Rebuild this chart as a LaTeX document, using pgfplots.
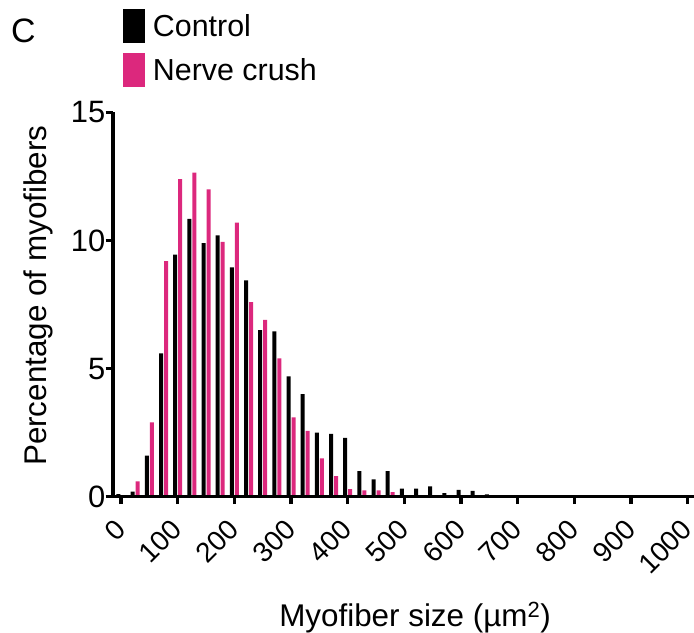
\documentclass[border=0pt]{standalone}
\usepackage{fontspec}
\setmainfont{Liberation Sans}
\usepackage{pgfplots}
\pgfplotsset{compat=1.18}
\definecolor{crush}{RGB}{220,40,125}
\begin{document}
\begin{tikzpicture}
\useasboundingbox (0,0) rectangle (694bp,633bp);
\node[anchor=base west, inner sep=0pt, font=\fontsize{34}{40}\selectfont] at (11bp,590bp) {C};
\begin{axis}[
  at={(113bp,136.3bp)}, anchor=south west,
  scale only axis, width=581bp, height=384.2bp,
  xmin=-14.1, xmax=1011, ymin=0, ymax=15,
  axis x line*=bottom, axis y line*=left,
  axis line style={line width=3.2bp, black},
  every tick/.style={line width=3.2bp, black},
  major tick length=7.5bp, tick align=outside,
  xtick={0,100,...,1000}, ytick={0,5,10,15},
  minor tick num=0,
  /pgf/number format/assume math mode=true,
  /pgf/number format/1000 sep={},
  yticklabel style={font=\fontsize{31}{36}\selectfont, anchor=east, inner sep=0pt},
  xticklabel style={font=\fontsize{28}{33}\selectfont, yshift=-20.5bp, xshift=-0.5bp, rotate=45, anchor=east, inner sep=0pt},
  label style={font=\fontsize{31.5}{38}\selectfont},
  xlabel={Myofiber size (µm\textsuperscript{2})},
  xlabel style={at={(axis description cs:0.5198,-0.3384)}, anchor=base, inner sep=0pt},
  ylabel={Percentage of myofibers},
  ylabel style={at={(axis description cs:-0.1136,0.523)}, anchor=base, rotate=0, inner sep=0pt},
  ybar=1bp, bar width=4bp,
  axis on top,
  legend style={draw=none, fill=none, at={(axis description cs:0.0172,1.270)}, anchor=north west,
    inner sep=0pt, outer sep=0pt, row sep=10bp,
    font=\fontsize{30.5}{36}\selectfont,
    nodes={inner sep=0pt},
    cells={anchor=base west},
    /tikz/every odd column/.append style={column sep=8bp}},
  legend image code/.code={\fill[#1] (0bp,-6.3bp) rectangle (22bp,27.7bp);},
]
\addplot[fill=black, draw=none] coordinates {
(0,0.1) (25,0.2) (50,1.6) (75,5.6) (100,9.45) (125,10.85) (150,9.9) (175,10.2)
(200,8.95) (225,8.45) (250,6.5) (275,6.45) (300,4.7) (325,4.0) (350,2.5) (375,2.45)
(400,2.3) (425,1.0) (450,0.68) (475,1.0) (500,0.32) (525,0.32) (550,0.4) (575,0.14)
(600,0.27) (625,0.23) (650,0.09) (675,0.05) (700,0.05) (725,0.02)};
\addlegendentry{Control}
\addplot[fill=crush, draw=none] coordinates {
(0,0) (25,0.6) (50,2.9) (75,9.2) (100,12.4) (125,12.65) (150,12.0) (175,9.95)
(200,10.7) (225,7.6) (250,6.9) (275,5.4) (300,3.1) (325,2.57) (350,1.5) (375,0.8)
(400,0.3) (425,0.25) (450,0.25) (475,0.18) (500,0.03) (525,0.03) (550,0.02) (575,0)
(600,0) (625,0) (650,0) (675,0) (700,0) (725,0)};
\addlegendentry{Nerve crush}
\end{axis}
\end{tikzpicture}
\end{document}
